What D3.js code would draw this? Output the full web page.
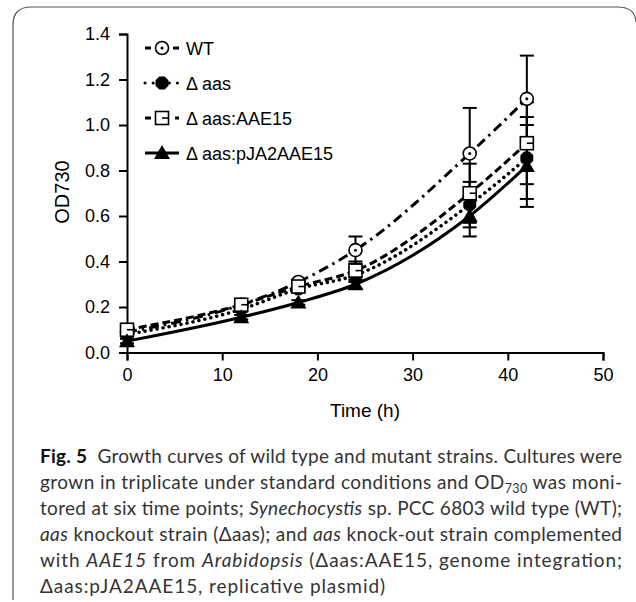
<!DOCTYPE html>
<html lang="en">
<head>
<meta charset="UTF-8">
<title>Growth curves</title>
<style>
  body { margin: 0; background: #fff; }
  svg { display: block; }
</style>
</head>
<body>
<script src="https://d3js.org/d3.v7.min.js"></script>
<script>
// time points (h)
var times = [0, 12, 18, 24, 36, 42];
// OD730 means
var wt = [0.09, 0.21, 0.31, 0.45, 0.875, 1.115];
var aas = [0.08, 0.19, 0.28, 0.34, 0.65, 0.855];
var aasAAE15 = [0.10, 0.21, 0.29, 0.36, 0.70, 0.92];
var aasPJA2 = [0.05, 0.155, 0.22, 0.30, 0.60, 0.82];
// error bar half-heights
var wtErr = [0.01, 0.01, 0.01, 0.06, 0.20, 0.19];
var aasErr = [0.01, 0.01, 0.01, 0.03, 0.10, 0.18];
var aasAAE15Err = [0.01, 0.01, 0.02, 0.04, 0.13, 0.18];
var aasPJA2Err = [0.01, 0.01, 0.01, 0.02, 0.09, 0.18];
var seriesNames = ["WT", "\u0394 aas", "\u0394 aas:AAE15", "\u0394 aas:pJA2AAE15"];
var xTicks = [0, 10, 20, 30, 40, 50];
var yTicks = [0, 0.2, 0.4, 0.6, 0.8, 1.0, 1.2, 1.4];

var series = [
    { name: seriesNames[0], vals: wt, err: wtErr, dash: "10,5,2.5,5", cap: "butt", marker: "circleDot" },
    { name: seriesNames[1], vals: aas, err: aasErr, dash: "0.1,6", cap: "round", marker: "hex" },
    { name: seriesNames[2], vals: aasAAE15, err: aasAAE15Err, dash: "8,4", cap: "butt", marker: "square" },
    { name: seriesNames[3], vals: aasPJA2, err: aasPJA2Err, dash: null, cap: "butt", marker: "triangle" }
];

const W = 636, H = 602;
const svg = d3.select("body").append("svg").attr("width", W).attr("height", H);
const font = "'Liberation Sans', Arial, sans-serif";

// frame
svg.append("path")
    .attr("d", "M13,600 L13,25 Q13,7 31,7 L618,7 Q635,7 636,22")
    .attr("fill", "none").attr("stroke", "#555").attr("stroke-width", 1.2);

const x = d3.scaleLinear().domain([0, 50]).range([127, 603]);
const y = d3.scaleLinear().domain([0, 1.4]).range([352.5, 34]);

// axes
const xAxis = svg.append("g")
    .attr("transform", "translate(0," + y(0) + ")")
    .call(d3.axisBottom(x).tickValues(xTicks).tickSize(8).tickPadding(8).tickFormat(d3.format("d")));
const yAxis = svg.append("g")
    .attr("transform", "translate(" + x(0) + ",0)")
    .call(d3.axisLeft(y).tickValues(yTicks).tickSize(8).tickPadding(9).tickFormat(d3.format(".1f")));
[xAxis, yAxis].forEach(function(a) {
    a.selectAll("path, line").attr("stroke", "#000").attr("stroke-width", 2);
    a.selectAll("text").attr("font-family", font).attr("font-size", 18).attr("fill", "#000");
});

svg.append("text").attr("x", 365).attr("y", 417).attr("text-anchor", "middle")
    .attr("font-family", font).attr("font-size", 19).text("Time (h)");
svg.append("text").attr("transform", "translate(69,192) rotate(-90)").attr("text-anchor", "middle")
    .attr("font-family", font).attr("font-size", 20).text("OD730");

// marker drawer
function drawMarker(g, type, cx, cy) {
    if (type === "circleDot") {
        g.append("circle").attr("cx", cx).attr("cy", cy).attr("r", 6.5)
            .attr("fill", "#fff").attr("stroke", "#000").attr("stroke-width", 1.6);
        g.append("circle").attr("cx", cx).attr("cy", cy).attr("r", 1.5).attr("fill", "#000");
    } else if (type === "hex") {
        var pts = d3.range(8).map(function(i) {
            var a = Math.PI / 8 + i * Math.PI / 4;
            return [cx + 7 * Math.cos(a), cy + 7 * Math.sin(a)];
        });
        g.append("polygon").attr("points", pts.join(" ")).attr("fill", "#000");
    } else if (type === "square") {
        g.append("rect").attr("x", cx - 6.5).attr("y", cy - 6.5).attr("width", 13).attr("height", 13)
            .attr("fill", "#fff").attr("stroke", "#000").attr("stroke-width", 1.6);
        g.append("line").attr("x1", cx).attr("x2", cx + 6.5).attr("y1", cy).attr("y2", cy)
            .attr("stroke", "#000").attr("stroke-width", 1.6);
    } else if (type === "triangle") {
        g.append("path").attr("d", "M" + cx + "," + (cy - 8) + " L" + (cx + 8) + "," + (cy + 6) + " L" + (cx - 8) + "," + (cy + 6) + " Z")
            .attr("fill", "#000");
    }
}

const line = d3.line().curve(d3.curveMonotoneX)
    .x(function(d, i) { return x(times[i]); })
    .y(function(d) { return y(d); });

const plot = svg.append("g");
// error bars
series.forEach(function(s) {
    s.vals.forEach(function(v, i) {
        var e = s.err[i];
        var cx = x(times[i]);
        plot.append("line").attr("x1", cx).attr("x2", cx).attr("y1", y(v - e)).attr("y2", y(v + e))
            .attr("stroke", "#000").attr("stroke-width", 2);
        [v - e, v + e].forEach(function(b) {
            plot.append("line").attr("x1", cx - 7).attr("x2", cx + 7).attr("y1", y(b)).attr("y2", y(b))
                .attr("stroke", "#000").attr("stroke-width", 2);
        });
    });
});
// lines
series.forEach(function(s) {
    plot.append("path").datum(s.vals).attr("d", line)
        .attr("fill", "none").attr("stroke", "#000")
        .attr("stroke-width", s.marker === "hex" ? 3.5 : 3)
        .attr("stroke-linecap", s.cap)
        .attr("stroke-dasharray", s.dash);
});
// markers
series.forEach(function(s) {
    s.vals.forEach(function(v, i) {
        drawMarker(plot, s.marker, x(times[i]), y(v));
    });
});

// legend
const legY = [48, 83, 118, 153];
series.forEach(function(s, i) {
    var g = svg.append("g");
    var ly = legY[i];
    g.append("line").attr("x1", 145).attr("x2", 179).attr("y1", ly).attr("y2", ly)
        .attr("stroke", "#000").attr("stroke-width", 3)
        .attr("stroke-linecap", s.cap)
        .attr("stroke-dasharray", s.marker === "hex" ? "0.1,8" : s.marker === "circleDot" ? "6,22,6" : s.marker === "square" ? "6,18,0.1,6" : null);
    drawMarker(g, s.marker, 162, ly);
    g.append("text").attr("x", 186).attr("y", ly + 6.5)
        .attr("font-family", font).attr("font-size", 18).text(s.name);
});

// caption
const capFont = "Lato, 'Noto Sans', sans-serif";
const capLines = [
    [["Fig. 5", "b"], ["  Growth curves of wild type and mutant strains. Cultures were", ""]],
    [["grown in triplicate under standard conditions and OD", ""], ["730", "sub"], [" was moni-", "up"]],
    [["tored at six time points; ", ""], ["Synechocystis", "i"], [" sp. PCC 6803 wild type (WT);", ""]],
    [["aas", "i"], [" knockout strain (\u0394aas); and ", ""], ["aas", "i"], [" knock-out strain complemented", ""]],
    [["with ", ""], ["AAE15", "i"], [" from ", ""], ["Arabidopsis", "i"], [" (\u0394aas:AAE15, genome integration;", ""]],
    [["\u0394aas:pJA2AAE15, replicative plasmid)", ""]]
];
const capWidths = [582, 582, 582, 582, 582, 345];
capLines.forEach(function(parts, li) {
    var t = svg.append("text").attr("x", 40).attr("y", 463 + li * 26)
        .attr("font-family", capFont).attr("font-size", 19).attr("fill", "#333")
        .attr("xml:space", "preserve")
        .attr("textLength", capWidths[li]).attr("lengthAdjust", "spacing");
    parts.forEach(function(p) {
        var ts = t.append("tspan").text(p[0]);
        if (p[1] === "b") ts.attr("font-weight", "bold").attr("fill", "#111");
        if (p[1] === "i") ts.attr("font-style", "italic");
        if (p[1] === "sub") ts.attr("font-size", 12.5).attr("dy", 4);
        if (p[1] === "up") ts.attr("dy", -4);
    });
});
</script>
</body>
</html>
